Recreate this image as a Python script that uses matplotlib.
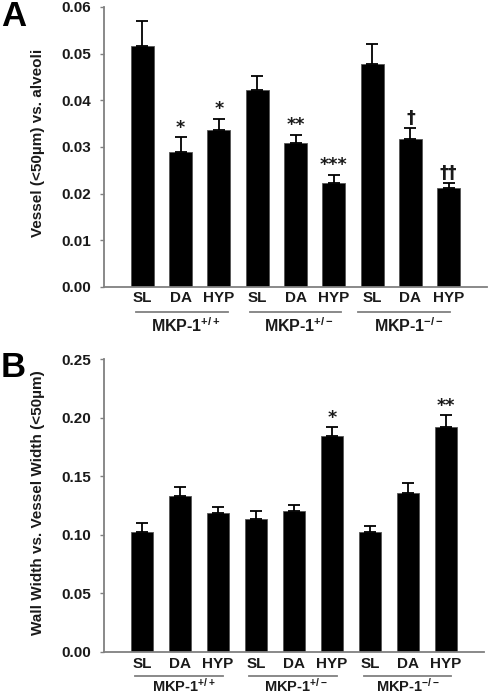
import matplotlib
matplotlib.use("Agg")
import matplotlib.pyplot as plt
import numpy as np

plt.rcParams['font.family'] = ['Liberation Sans', 'DejaVu Sans']
plt.rcParams['font.weight'] = 'bold'
plt.rcParams['mathtext.fontset'] = 'custom'
plt.rcParams['mathtext.rm'] = 'Liberation Sans:bold'
plt.rcParams['mathtext.it'] = 'Liberation Sans:bold'
plt.rcParams['mathtext.bf'] = 'Liberation Sans:bold'

categories = ["SL", "DA", "HYP", "SL", "DA", "HYP", "SL", "DA", "HYP"]
groups = [r"MKP-1$^{+/+}$", r"MKP-1$^{+/-}$", r"MKP-1$^{-/-}$"]

a_values = [0.0516, 0.0289, 0.0336, 0.0423, 0.0309, 0.0223, 0.0478, 0.0318, 0.0212]
a_errors = [0.0053, 0.0032, 0.0025, 0.0030, 0.0017, 0.0017, 0.0043, 0.0023, 0.0011]
a_marks = ["", "*", "*", "", "**", "***", "", "\u2020", "\u2020\u2020"]

b_values = [0.1022, 0.1333, 0.1185, 0.1133, 0.1202, 0.1842, 0.1025, 0.1358, 0.1916]
b_errors = [0.0080, 0.0076, 0.0054, 0.0071, 0.0051, 0.0074, 0.0048, 0.0083, 0.0103]
b_marks = ["", "", "", "", "", "*", "", "", "**"]

GRAY = "#808080"
TXT = "#1a1a1a"

fig = plt.figure(figsize=(4.88, 6.96), dpi=100)
W, H = 488, 696


def make_panel(rect, values, errors, marks, ymax, ystep, ylabel, letter, letter_xy, ylabel_y,
               group_spans, group_centers, offs, gsize):
    ax = fig.add_axes(rect)
    x = np.arange(1, len(values) + 1)
    ax.bar(x, values, width=0.6, color="black", edgecolor="#555555", linewidth=0.6, zorder=2)
    ax.errorbar(x, values, yerr=[np.zeros(len(errors)), errors], fmt="none", ecolor="black",
                elinewidth=1.3, capsize=4, capthick=1.3, zorder=3)
    for xi, v, e, m in zip(x, values, errors, marks):
        if m:
            ax.text(xi, v + e + ymax * 0.002, m, ha="center", va="bottom", fontsize=12.5,
                    fontweight="bold", color=TXT, family=["DejaVu Sans"])
    ax.set_xlim(0, 10)
    ax.set_ylim(0, ymax)
    ax.set_yticks(np.arange(0, ymax + ystep / 2, ystep))
    ax.yaxis.set_major_formatter(matplotlib.ticker.FormatStrFormatter("%.2f"))
    ax.set_xticks(x)
    ax.set_xticklabels(categories)
    for s in ["top", "right"]:
        ax.spines[s].set_visible(False)
    for s in ["left", "bottom"]:
        ax.spines[s].set_color(GRAY)
        ax.spines[s].set_linewidth(1.3)
    ax.tick_params(axis="y", direction="out", length=3, width=1, color=GRAY, pad=6,
                   labelsize=11, labelcolor=TXT)
    ax.tick_params(axis="x", length=0, pad=offs[0], labelsize=11, labelcolor=TXT)
    for lab in ax.get_xticklabels() + ax.get_yticklabels():
        lab.set_fontweight("bold")
    trans = matplotlib.transforms.blended_transform_factory(ax.transData, ax.transAxes)
    shift = matplotlib.transforms.ScaledTranslation(0, -offs[1] / 100, fig.dpi_scale_trans)
    for (x0, x1) in group_spans:
        line = matplotlib.lines.Line2D([x0, x1], [0, 0], color=GRAY, lw=1.3, clip_on=False,
                                       transform=trans + shift)
        ax.add_line(line)
    for xc, g in zip(group_centers, groups):
        ax.annotate(g, xy=(xc, 0), xycoords=trans, xytext=(0, -offs[2]), textcoords="offset pixels",
                    ha="center", va="center", fontsize=gsize, fontweight="bold", color=TXT,
                    annotation_clip=False)
    fig.text(38 / W, 1 - ylabel_y / H, ylabel, rotation=90, ha="center", va="center",
             fontsize=11, fontweight="bold", color=TXT)
    fig.text(letter_xy[0] / W, 1 - letter_xy[1] / H, letter, ha="left", va="top",
             fontsize=25, fontweight="bold", color="black")
    return ax


axA = make_panel([104 / W, 1 - 287 / H, 383 / W, 280 / H], a_values, a_errors, a_marks,
                 0.06, 0.01, "Vessel (<50\u00b5m) vs. alveoli", "A", (1, 0), 143,
                 [(0.84, 3.24), (3.81, 6.19), (6.63, 9.03)], [2.14, 5.1, 7.95], (3, 25, 39), 11.5)
axB = make_panel([104 / W, 1 - 651.7 / H, 380 / W, 292.7 / H], b_values, b_errors, b_marks,
                 0.25, 0.05, "Wall Width vs. Vessel Width (<50\u00b5m)", "B", (1, 351), 503,
                 [(0.82, 3.13), (3.82, 6.13), (6.84, 9.13)], [2.1, 5.05, 8.0], (4, 24, 34), 10.5)

fig.savefig("out.png", dpi=100)
